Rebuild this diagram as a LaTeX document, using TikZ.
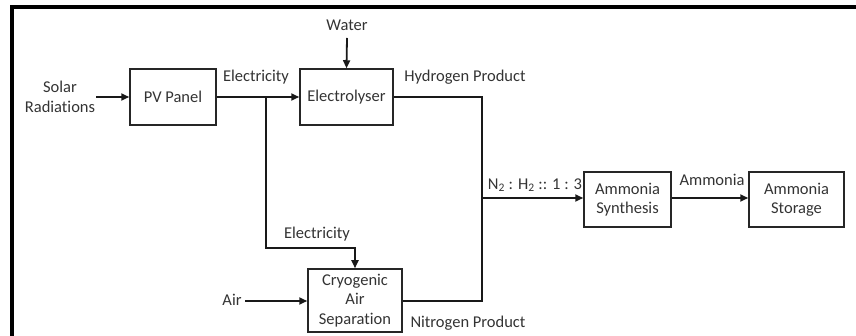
\documentclass[tikz,border=0pt]{standalone}
\usepackage{fontspec}
\setmainfont{Carlito}[Ligatures={NoCommon}]
\usetikzlibrary{arrows.meta}
\begin{document}
\begin{tikzpicture}[x=1pt,y=-1pt,
  box/.style={draw=black!85,line width=1.5pt,minimum width=#1,inner sep=0pt,align=center,text=black!80,font=\fontsize{16.5}{19.5}\selectfont},
  lbl/.style={inner sep=0pt,align=center,text=black!80,font=\fontsize{16.5}{19.5}\selectfont},
  flow/.style={line width=1.8pt,draw=black!90},
  arr/.style={flow,-{Triangle[length=8pt,width=7pt]}}]
\useasboundingbox (0,0) rectangle (856,336);
\draw[line width=4pt] (12,336) -- (12,7) -- (856,7);
% boxes
\node[box=86pt,minimum height=56pt] (pv) at (173,97) {PV Panel};
\node[box=93pt,minimum height=56pt] (el) at (346.5,97) {Electrolyser};
\node[box=94pt,minimum height=63pt] (cry) at (355,300.5) {Cryogenic\\Air\\Separation};
\node[box=87pt,minimum height=55pt] (syn) at (627.5,199.5) {Ammonia\\Synthesis};
\node[box=95pt,minimum height=55pt] (sto) at (796.5,199.5) {Ammonia\\Storage};
% labels
\node[lbl] (solar) at (60,97) {Solar\\Radiations};
\node[lbl] (water) at (347,25) {Water};
\node[lbl] (air) at (232,300) {Air};
\node[lbl] (e1) at (256,77) {Electricity};
\node[lbl] (hp) at (465,77) {Hydrogen Product};
\node[lbl] (e2) at (317,234) {Electricity};
\node[lbl] (ratio) at (535,185) {N\textsubscript{2} : H\textsubscript{2} :: 1 : 3};
\node[lbl] (am) at (712,180) {Ammonia};
\node[lbl] (np) at (468,323) {Nitrogen Product};
% coordinates
\coordinate (b1) at (266,97);
\coordinate (b2) at (266,248);
\coordinate (j1) at (482,97);
\coordinate (j2) at (482,198);
\coordinate (j3) at (482,301);
\coordinate (sx) at (96,97);
\coordinate (wx) at (347,38);
\coordinate (ax) at (245,301);
% connectors
\draw[arr] (sx) -- (pv.west);
\draw[arr] (pv.east) -- (el.west);
\draw[arr] (wx) -- (el.north);
\draw[arr] (b1) -- (b2) -| (cry.north);
\draw[arr] (ax) -- (cry.west |- ax);
\draw[flow] (el.east) -- (j1) -- (j3) -- (cry.east |- j3);
\draw[arr] (j2) -- (syn.west |- j2);
\draw[arr] (syn.east |- j2) -- (sto.west |- j2);
\end{tikzpicture}
\end{document}
